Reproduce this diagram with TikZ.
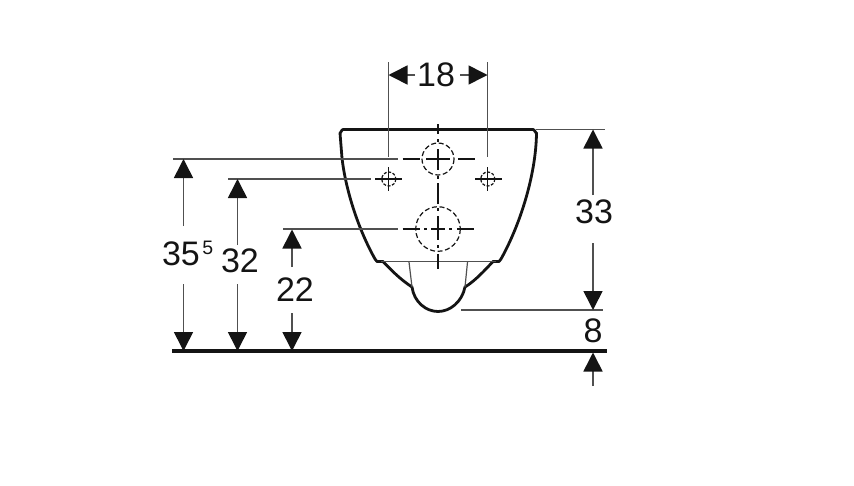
\documentclass[tikz,border=0pt]{standalone}
\usepackage{fontspec}
\setmainfont{Liberation Sans}
\usetikzlibrary{arrows.meta}
\definecolor{ink}{HTML}{141414}
\definecolor{leader}{HTML}{505050}
\tikzset{
  body/.style={draw=ink,line width=2.8pt,line join=round,line cap=round},
  thinbody/.style={draw=leader,line width=1.2pt},
  leaderline/.style={draw=leader,line width=1.4pt},
  ground/.style={draw=ink,line width=3.2pt},
  cross/.style={draw=ink,line width=1.2pt},
  hidden/.style={draw=ink,line width=1.2pt,dash pattern=on 5pt off 2.6pt},
  hiddensmall/.style={draw=ink,line width=1.2pt,dash pattern=on 3pt off 1.6pt},
  dimline/.style={draw=leader,line width=1.6pt,-{Triangle[length=19pt,width=19pt,color=ink,fill=ink]}},
  dimtext/.style={inner sep=0pt,text=ink,font=\fontsize{34}{36}\selectfont},
  suptext/.style={inner sep=0pt,text=ink,font=\fontsize{19.5}{21}\selectfont}
}
\begin{document}
\begin{tikzpicture}[x=1pt,y=-1pt]
\useasboundingbox (0,0) rectangle (854,485);
% reference coordinates
\coordinate (rimL) at (340,129.5);
\coordinate (rimR) at (536,129.5);
\coordinate (rimX) at (605,129.5);
\coordinate (cU) at (438,159);
\coordinate (cB) at (438,229);
\coordinate (cL) at (388.8,179);
\coordinate (cR) at (487.8,179);
\coordinate (gL) at (172,351);
\coordinate (gR) at (607,351);
% body
\draw[body] (342,158) -- (340,133) to[out=-90,in=180,looseness=0.8] ([xshift=3pt]rimL) -- ([xshift=-3pt]rimR) to[out=0,in=-90,looseness=0.8] (536.5,133)
  .. controls (536,175) and (520,225) .. (501,259) -- (499,261.5) -- (493,261.5)
  .. controls (485,270) and (475,281) .. (465,287)
  .. controls (462,302) and (450,311.5) .. (438,311.5)
  .. controls (426,311.5) and (414,302) .. (412,287)
  .. controls (401,280) and (391,270) .. (383,261.5) -- (377,261.5) -- (375,259)
  .. controls (356,225) and (345,185) .. (342,158);
\draw[thinbody] (381,261.5) -- (496,261.5);
\draw[thinbody] (409,262) -- (412,287);
\draw[thinbody] (467.5,262) -- (465,287);
% centre lines
\draw[cross] (438,124) -- (438,134);
\draw[cross] (438,139) -- (438,142);
\draw[cross] (438,149) -- (438,170);
\draw[cross] (438,176) -- (438,179);
\draw[cross] (438,183) -- (438,204);
\draw[cross] (438,208) -- (438,211);
\draw[cross] (438,216) -- (438,240);
\draw[cross] (438,245) -- (438,248);
\draw[cross] (438,254) -- (438,269);
\draw[cross] (402.5,159) -- (420,159);
\draw[cross] (426,159) -- (450,159);
\draw[cross] (458,159) -- (475,159);
\draw[cross] (402.5,229) -- (420,229);
\draw[cross] (424,229) -- (427,229);
\draw[cross] (431,229) -- (445,229);
\draw[cross] (449,229) -- (452,229);
\draw[cross] (457,229) -- (474,229);
% hidden circles
\draw[hidden] (cU) circle (16);
\draw[hidden] (cB) circle (22.3);
\draw[hiddensmall] (cL) circle (7);
\draw[hiddensmall] (cR) circle (7);
\draw[cross] (375,179) -- (402,179) (388.8,167) -- (388.8,191);
\draw[cross] (475,179) -- (501.5,179) (487.8,167) -- (487.8,191);
% extension lines
\draw[leaderline] (388.5,62) -- (388.5,157);
\draw[leaderline] (487.5,62) -- (487.5,157);
\draw[leaderline] (173,159) -- (398,159);
\draw[leaderline] (228,179) -- (371,179);
\draw[leaderline] (283,229) -- (398,229);
\draw[leaderline] (rimR) -- (rimX);
\draw[leaderline] (461,310) -- (603,310);
\draw[ground] (gL) -- (gR);
% labels
\node[dimtext] (n18) at (436,75) {18};
\node[dimtext] (n33) at (594,211.5) {33};
\node[dimtext] (n35) at (181,254) {35};
\node[suptext] (n5) at (207.8,247.5) {5};
\node[dimtext] (n32) at (240,261) {32};
\node[dimtext] (n22) at (295,290) {22};
\node[dimtext] (n8) at (593,331) {8};
% dimension arrows
\coordinate (a18L) at (415,75); \coordinate (t18L) at (388.5,75);
\coordinate (a18R) at (460,75); \coordinate (t18R) at (487.5,75);
\draw[dimline] (a18L) -- (t18L);
\draw[dimline] (a18R) -- (t18R);
\coordinate (a33T) at (593,195); \coordinate (t33T) at (593,129.5);
\coordinate (a33B) at (593,243); \coordinate (t33B) at (593,310);
\draw[dimline] (a33T) -- (t33T);
\draw[dimline] (a33B) -- (t33B);
\coordinate (a35T) at (183.5,226); \coordinate (t35T) at (183.5,159);
\coordinate (a35B) at (183.5,284); \coordinate (t35B) at (183.5,351);
\draw[dimline] (a35T) -- (t35T);
\draw[dimline] (a35B) -- (t35B);
\coordinate (a32T) at (237.5,245); \coordinate (t32T) at (237.5,179);
\coordinate (a32B) at (237.5,284); \coordinate (t32B) at (237.5,351);
\draw[dimline] (a32T) -- (t32T);
\draw[dimline] (a32B) -- (t32B);
\coordinate (a22T) at (292,267); \coordinate (t22T) at (292,229.5);
\coordinate (a22B) at (292,313); \coordinate (t22B) at (292,351);
\draw[dimline] (a22T) -- (t22T);
\draw[dimline] (a22B) -- (t22B);
\coordinate (a8) at (593,386); \coordinate (t8) at (593,352.5);
\draw[dimline] (a8) -- (t8);
\end{tikzpicture}
\end{document}
